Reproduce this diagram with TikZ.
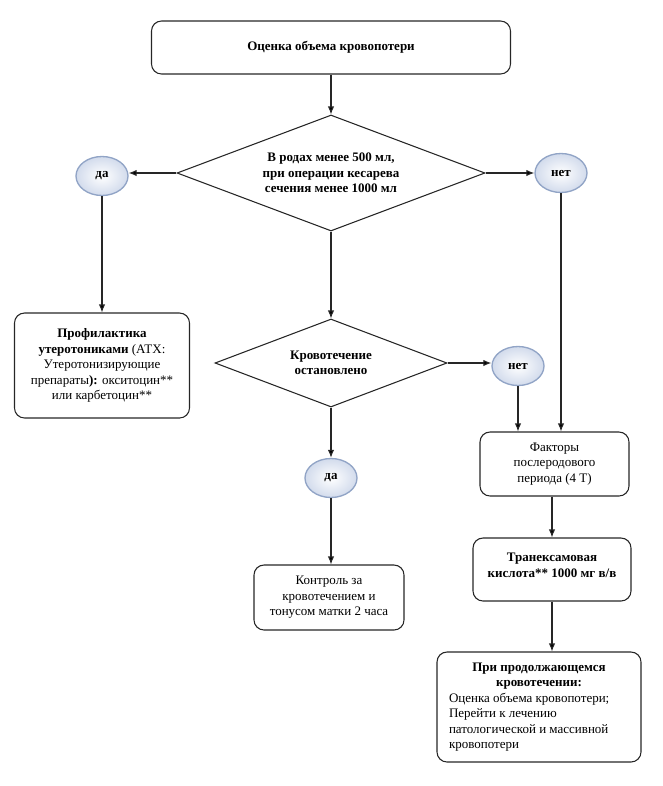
\documentclass[tikz,border=0pt]{standalone}
\usepackage{fontspec}
\setmainfont{Liberation Serif}
\usetikzlibrary{shapes.geometric,arrows.meta}

\definecolor{ballfill}{RGB}{210,219,236}
\definecolor{ballline}{RGB}{145,164,198}
\newcommand{\flowfont}{\fontsize{9.75pt}{11.6pt}\selectfont}

\tikzset{
  box/.style={draw=black!85, line width=0.8pt, rounded corners=7.5pt, align=center, inner sep=2pt, font=\flowfont},
  test/.style={diamond, draw=black!85, line width=0.8pt, align=center, inner sep=0pt, font=\flowfont\bfseries},
  ball/.style={ellipse, draw=ballline, line width=1pt, shading=radial, inner color=white, outer color=ballfill,
    minimum width=39pt, minimum height=29.25pt, inner sep=0pt, font=\flowfont\bfseries}
}

\begin{document}
\begin{tikzpicture}[x=0.75pt, y=-0.75pt, >={Latex[length=6pt,width=4.8pt]}]
\useasboundingbox (0,0) rectangle (662,786);

\node[box, minimum width=269.25pt, minimum height=39.75pt, font=\flowfont\bfseries] (B1) at (331,47.5) {Оценка объема кровопотери};
\node[test, minimum width=231pt, minimum height=87pt, aspect=2.65] (D1) at (331,173) {В родах менее 500 мл,\\при операции кесарева\\сечения менее 1000 мл};
\node[ball] (Y1) at (102,176) {да};
\node[ball] (N1) at (561,173) {нет};
\node[box, minimum width=131.25pt, minimum height=78.75pt] (B2) at (102,365.5) {\textbf{Профилактика}\\\textbf{утеротониками} (АТХ:\\Утеротонизирующие\\препараты\textbf{):} окситоцин**\\или карбетоцин**};
\node[test, minimum width=174pt, minimum height=66pt, aspect=2.64] (D2) at (331,363) {Кровотечение\\остановлено};
\node[ball] (N2) at (518,366) {нет};
\node[ball] (Y2) at (331,478) {да};
\node[box, minimum width=112.5pt, minimum height=48.75pt] (B3) at (329,597.5) {Контроль за\\кровотечением и\\тонусом матки 2 часа};
\node[box, minimum width=111.75pt, minimum height=48pt] (B4) at (554.5,464) {Факторы\\послеродового\\периода (4 Т)};
\node[box, minimum width=118.5pt, minimum height=47.25pt, font=\flowfont\bfseries] (B5) at (552,569.5) {Транексамовая\\кислота** 1000 мг в/в\\[-5pt]};
\node[box, text width=135pt, inner xsep=9pt, minimum height=82.5pt, align=none] (B6) at (539,707) {\centering\textbf{При продолжающемся\\кровотечении:}\par\raggedright Оценка объема кровопотери;\\Перейти к лечению\\патологической и массивной\\кровопотери};

\path[draw=black!85, line width=0.8pt]
    (B1) edge[->] (D1)
    (D1.west) edge[->] (D1.west -| Y1.east)
    (D1.east) edge[->] (D1.east -| N1.west)
    (Y1) edge[->] (B2)
    (D1) edge[->] (D2)
    (D2.east) edge[->] (D2.east -| N2.west)
    (D2) edge[->] (Y2)
    (Y2) edge[->] (Y2 |- B3.north)
    (N1) edge[->] (N1 |- B4.north)
    (N2) edge[->] (N2 |- B4.north)
    (B5 |- B4.south) edge[->] (B5)
    (B5) edge[->] (B5 |- B6.north);
\end{tikzpicture}
\end{document}
